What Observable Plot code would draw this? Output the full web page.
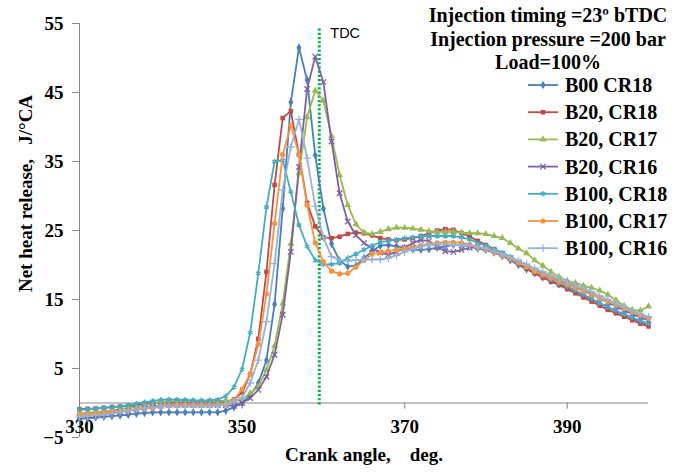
<!DOCTYPE html>
<html><head><meta charset="utf-8">
<script src="https://cdn.jsdelivr.net/npm/d3@7"></script>
<script src="https://cdn.jsdelivr.net/npm/@observablehq/plot@0.6"></script>
<style>body{margin:0;background:#fff}#chart{width:685px;height:473px}</style>
</head><body><div id="chart"></div>
<script>
const angles = [330,331,332,333,334,335,336,337,338,339,340,341,342,343,344,345,346,347,348,349,350,351,352,353,354,355,356,357,358,359,360,361,362,363,364,365,366,367,368,369,370,371,372,373,374,375,376,377,378,379,380,381,382,383,384,385,386,387,388,389,390,391,392,393,394,395,396,397,398,399,400];

const b00cr18 = [-2.3,-2.2,-2.1,-2.0,-1.9,-1.8,-1.7,-1.55,-1.45,-1.35,
  -1.35,-1.35,-1.35,-1.35,-1.35,-1.35,-1.35,-1.35,-1.1,-0.6,
  0.0,1.1,2.9,6.2,14.3,28.2,43.6,51.5,46.8,35.9,
  28.2,23.1,20.6,19.8,19.9,21.0,22.0,22.8,22.9,22.7,
  22.5,22.2,22.2,22.3,22.5,22.7,22.9,22.9,22.7,22.4,
  22.2,21.8,21.3,20.7,20.0,19.4,18.8,18.2,17.7,17.2,
  16.7,16.2,15.6,15.0,14.4,13.9,13.3,12.8,12.3,11.8,
  11.4];
const b20cr18 = [-0.9,-0.85,-0.8,-0.7,-0.6,-0.5,-0.4,-0.3,-0.1,0.0,
  0.1,0.1,0.1,0.1,0.1,0.1,0.1,0.1,0.2,0.5,
  1.5,4.2,9.3,19.0,31.6,41.3,42.3,36.0,29.0,25.6,
  24.0,23.9,24.1,24.5,24.7,24.6,24.3,23.9,23.7,23.6,
  23.7,23.9,24.2,24.6,25.0,25.2,25.1,24.6,24.1,23.5,
  22.9,22.3,21.7,21.0,20.2,19.5,18.8,18.2,17.6,17.1,
  16.5,15.9,15.3,14.7,14.1,13.5,13.0,12.5,12.0,11.5,
  11.1];
const b20cr17 = [-1.5,-1.4,-1.3,-1.2,-1.1,-0.9,-0.7,-0.5,-0.3,-0.1,
  0.1,0.2,0.3,0.3,0.3,0.3,0.3,0.3,0.3,0.3,
  0.5,1.4,2.4,4.8,8.3,14.4,23.1,33.3,41.4,45.3,
  43.8,38.7,33.0,28.7,25.9,24.7,24.5,24.8,25.2,25.4,
  25.4,25.3,25.1,24.9,24.8,24.8,24.8,24.7,24.6,24.6,
  24.5,24.2,23.9,23.2,22.4,21.7,20.7,19.9,19.0,18.3,
  17.7,17.4,17.0,16.7,16.3,15.7,14.9,14.1,13.5,13.4,
  14.0];
const b20cr16 = [-2.0,-1.9,-1.8,-1.6,-1.5,-1.3,-1.1,-0.9,-0.7,-0.5,
  -0.4,-0.3,-0.3,-0.3,-0.3,-0.3,-0.3,-0.3,-0.3,-0.4,
  0.0,0.7,1.9,3.8,7.0,12.8,21.9,34.2,45.5,50.2,
  46.5,37.9,30.4,26.3,24.3,23.2,22.4,21.8,21.5,21.9,
  22.5,23.2,23.6,23.5,22.6,22.0,21.9,22.2,22.5,22.6,
  22.4,22.1,21.6,21.0,20.4,19.8,19.2,18.7,18.2,17.7,
  17.3,16.8,16.3,15.8,15.2,14.6,14.0,13.4,12.9,12.4,
  12.0];
const b100cr18 = [-1.0,-0.9,-0.8,-0.7,-0.6,-0.5,-0.3,-0.1,0.1,0.3,
  0.45,0.5,0.5,0.45,0.4,0.35,0.4,0.5,1.0,2.3,
  4.9,10.2,18.8,28.4,35.0,35.2,30.6,25.8,22.7,20.7,
  20.1,20.1,20.3,21.0,21.6,22.2,22.8,23.3,23.5,23.7,
  23.9,24.0,24.2,24.2,24.2,24.2,24.2,24.0,23.7,23.2,
  22.8,22.3,21.8,21.2,20.5,19.8,19.1,18.5,17.9,17.4,
  16.9,16.3,15.7,15.1,14.5,13.9,13.4,12.9,12.4,11.9,
  11.5];
const b100cr17 = [-1.7,-1.6,-1.5,-1.4,-1.3,-1.2,-1.1,-0.9,-0.8,-0.7,
  -0.5,-0.4,-0.3,-0.3,-0.3,-0.3,-0.3,-0.3,-0.3,0.4,
  2.0,4.2,8.5,15.8,26.0,36.0,40.2,36.0,28.7,23.2,
  20.5,19.1,18.7,18.8,19.7,20.7,21.6,21.8,22.0,22.2,
  22.4,22.6,22.8,23.0,23.2,23.3,23.3,23.2,23.0,22.6,
  22.3,21.9,21.4,20.9,20.3,19.7,19.1,18.6,18.1,17.6,
  17.2,16.7,16.2,15.7,15.2,14.7,14.2,13.7,13.2,12.7,
  12.3];
const b100cr16 = [-2.0,-1.9,-1.8,-1.7,-1.5,-1.3,-1.1,-0.9,-0.7,-0.6,
  -0.5,-0.5,-0.5,-0.5,-0.5,-0.5,-0.5,-0.4,-0.2,0.2,
  0.8,2.9,6.2,11.8,20.2,30.9,37.1,41.1,35.5,28.5,
  24.0,21.2,20.7,20.6,20.7,20.8,20.8,20.8,21.0,21.4,
  21.9,22.3,22.7,22.9,23.0,23.0,22.9,22.9,22.8,22.6,
  22.4,22.0,21.6,21.1,20.6,20.1,19.5,19.0,18.5,18.0,
  17.6,17.1,16.6,16.1,15.5,15.0,14.4,13.9,13.4,12.9,
  12.5];

const seriesNames = ["B00 CR18","B20, CR18","B20, CR17","B20, CR16","B100, CR18","B100, CR17","B100, CR16"];
const seriesValues = [b00cr18,b20cr18,b20cr17,b20cr16,b100cr18,b100cr17,b100cr16];
const seriesColors = ["#4A7EBB","#BE4B48","#98B954","#7D60A0","#46AAC5","#F69240","#95B3D7"];
const seriesSymbols = ["diamond","square","triangle","times","asterisk","circle","plus"];
const seriesFilled = [true,true,true,false,false,true,false];

const yTicks = [-5,5,15,25,35,45,55];
const xTicks = [330,350,370,390];
const titleLines = ["Injection timing =23º bTDC","Injection pressure =200 bar","Load=100%"];
const xLabel = "Crank angle,\u00a0\u00a0\u00a0\u00a0deg.";
const yLabel = "Net heat release,\u00a0\u00a0\u00a0J/°CA";
const tdcAngle = 359.5;
const tdcLabel = "TDC";

const serif = "'Liberation Serif','Times New Roman',serif";
const axisGrey = "#868686";

const marks = [
  Plot.ruleX([330], {stroke: axisGrey, strokeWidth: 1}),
  Plot.ruleY([0], {stroke: axisGrey, strokeWidth: 1}),
  Plot.ruleX(xTicks, {x: d => d, y1: 0, y2: -0.9, stroke: axisGrey}),
  Plot.axisY(yTicks, {tickSize: 7, tickPadding: 9, stroke: axisGrey, fill: "#000", fontSize: 19, fontWeight: "bold", fontFamily: serif, label: null}),
  Plot.text(xTicks, {x: d => d, y: 0, dy: 24, text: d => String(d), fontSize: 19, fontWeight: "bold", fontFamily: serif, fill: "#000"}),
  Plot.ruleX([tdcAngle], {y1: -0.3, y2: 54.4, stroke: "#00B050", strokeWidth: 3, strokeDasharray: "2.2,2"}),
  Plot.text([tdcLabel], {x: tdcAngle, y: 55, dx: 11, dy: 10, textAnchor: "start", fontSize: 14.5, fontFamily: "'Liberation Sans',Arial,sans-serif", fill: "#000"}),
];

seriesValues.forEach((vals, i) => {
  const rows = vals.map((v, j) => ({angle: angles[j], value: v}));
  marks.push(Plot.line(rows, {x: "angle", y: "value", stroke: seriesColors[i], strokeWidth: 1.8}));
  const dotOpts = {x: "angle", y: "value", symbol: () => seriesSymbols[i], r: 2.6};
  if (seriesFilled[i]) { dotOpts.fill = seriesColors[i]; dotOpts.stroke = "none"; }
  else { dotOpts.fill = "none"; dotOpts.stroke = seriesColors[i]; dotOpts.strokeWidth = 1.3; }
  marks.push(Plot.dot(rows, dotOpts));
});

marks.push(Plot.text([xLabel], {frameAnchor: "bottom", dy: 23, fontSize: 19, fontWeight: "bold", fontFamily: serif, fill: "#000"}));
marks.push(Plot.text([yLabel], {frameAnchor: "left", dx: -54, dy: -37, rotate: -90, textAnchor: "middle", fontSize: 19, fontWeight: "bold", fontFamily: serif, fill: "#000"}));

const svg = Plot.plot({
  width: 685, height: 473,
  marginLeft: 79, marginRight: 37, marginTop: 23, marginBottom: 36,
  x: {domain: [330, 400], axis: null},
  y: {domain: [-5, 55]},
  symbol: {type: "identity"},
  style: {fontFamily: serif, background: "#fff", overflow: "visible"},
  marks
});

// legend (title lines + series swatches)
const g = d3.select(svg).append("g").attr("class", "legend");
g.selectAll("text.title").data(titleLines).join("text")
  .attr("class", "title")
  .attr("x", 548).attr("y", (d, i) => 15 + i * 23.5)
  .attr("text-anchor", "middle").attr("dominant-baseline", "central")
  .style("font", `bold 20px ${serif}`).attr("fill", "#000").text(d => d);
const symbolMap = {diamond: d3.symbolDiamond, square: d3.symbolSquare, triangle: d3.symbolTriangle, times: d3.symbolTimes, asterisk: d3.symbolAsterisk, circle: d3.symbolCircle, plus: d3.symbolPlus};
seriesNames.forEach((name, i) => {
  const y = 85 + i * 27.2;
  const item = g.append("g").attr("transform", `translate(0,${y})`);
  item.append("line").attr("x1", 528).attr("x2", 558).attr("y1", 0).attr("y2", 0)
    .attr("stroke", seriesColors[i]).attr("stroke-width", 1.8);
  const p = item.append("path").attr("transform", "translate(543,0)")
    .attr("d", d3.symbol(symbolMap[seriesSymbols[i]], Math.PI * 2.6 * 2.6)());
  if (seriesFilled[i]) p.attr("fill", seriesColors[i]);
  else p.attr("fill", "none").attr("stroke", seriesColors[i]).attr("stroke-width", 1.3);
  item.append("text").attr("x", 565).attr("y", 0).attr("dominant-baseline", "central")
    .attr("text-anchor", "start")
    .style("font", `bold 20px ${serif}`).attr("fill", "#000").text(name);
});

document.getElementById("chart").appendChild(svg);
</script>
</body></html>
